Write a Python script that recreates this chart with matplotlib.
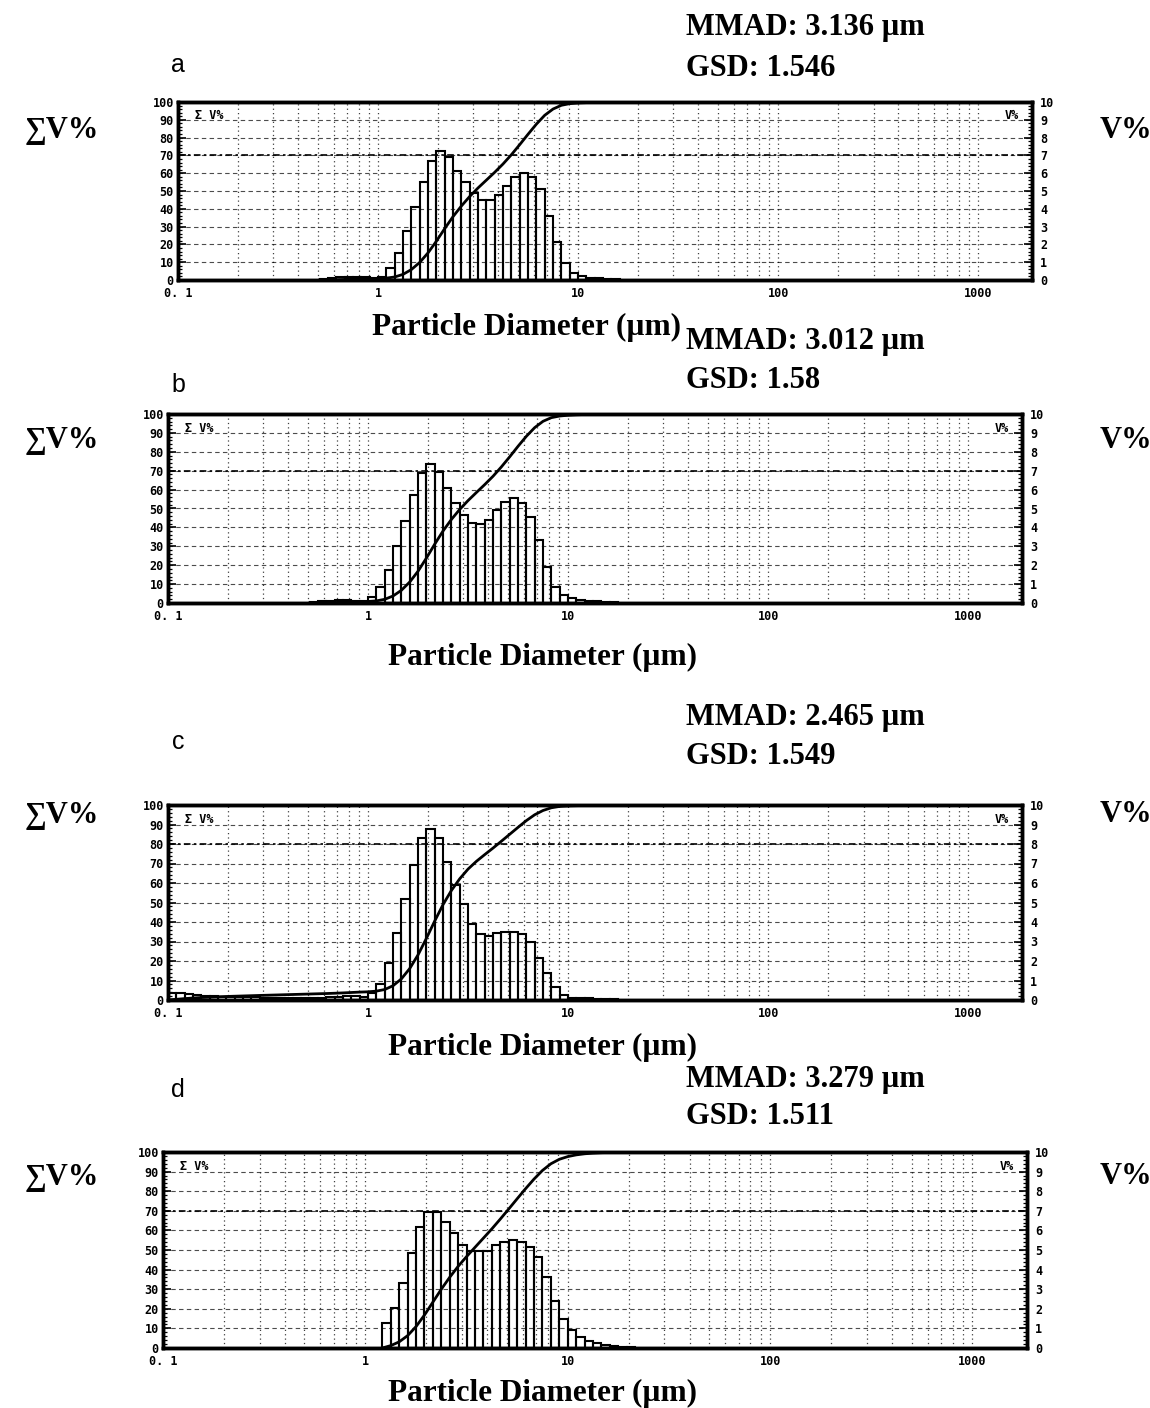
import numpy as np
import matplotlib
matplotlib.use('Agg')
import matplotlib.pyplot as plt
from matplotlib.ticker import FixedLocator, MultipleLocator, LogLocator, NullFormatter

W, H = 1150, 1408

# instrument channels: channel k spans 10**(k/24) .. 10**((k+1)/24) um
BINS_PER_DECADE = 24
CURVE_END = 100  # cumulative curve runs flat at 100 % up to here

PANEL_NAMES = ['a', 'b', 'c', 'd']
MMAD = ['3.136', '3.012', '2.465', '3.279']
GSD = ['1.546', '1.58', '1.549', '1.511']

XTICKS = [0.1, 1, 10, 100, 1000]
XTICK_LABELS = ['0. 1', '1', '10', '100', '1000']

# V% per channel, first channel index given separately
A_START = -7
A_VOL = [0.05, 0.1, 0.15, 0.18, 0.18, 0.15, 0.12, 0.15,
         0.66, 1.5, 2.77, 4.1, 5.5, 6.7, 7.25, 6.9, 6.1, 5.5, 4.9, 4.5,
         4.5, 4.8, 5.3, 5.8, 6.0, 5.8, 5.1, 3.6, 2.15, 0.94, 0.4,
         0.2, 0.12, 0.1, 0.08, 0.05]

B_START = -7
B_VOL = [0.05, 0.1, 0.12, 0.15, 0.15, 0.12, 0.12, 0.3,
         0.83, 1.75, 3.0, 4.35, 5.7, 6.9, 7.35, 6.95, 6.07, 5.3, 4.66, 4.25,
         4.18, 4.4, 4.92, 5.33, 5.54, 5.27, 4.57, 3.33, 1.92, 0.86, 0.4,
         0.25, 0.15, 0.1, 0.08, 0.05, 0.03]

C_START = -24
C_VOL = [0.35, 0.35, 0.3, 0.25, 0.2, 0.18, 0.15, 0.13, 0.13, 0.13, 0.13, 0.12,
         0.12, 0.12, 0.12, 0.12, 0.12, 0.12, 0.12, 0.15, 0.17, 0.2, 0.2, 0.15,
         0.34, 0.82, 1.9, 3.45, 5.2, 6.9, 8.3, 8.75, 8.3, 7.1, 5.9, 4.9,
         3.9, 3.4, 3.3, 3.45, 3.5, 3.5, 3.4, 2.95, 2.15, 1.37, 0.68, 0.26,
         0.12, 0.1, 0.08, 0.06, 0.05, 0.04]

D_START = 2
D_VOL = [1.26, 2.02, 3.33, 4.86, 6.19, 6.96, 6.96, 6.45, 5.88, 5.26,
         4.97, 4.97, 4.97, 5.26, 5.43, 5.5, 5.43, 5.17, 4.63, 3.6,
         2.41, 1.46, 0.92, 0.58, 0.36, 0.24, 0.15, 0.1, 0.07, 0.05]

STARTS = [A_START, B_START, C_START, D_START]
VOLS = [A_VOL, B_VOL, C_VOL, D_VOL]

# layout in pixels: axes box (left, top, right, bottom) and text rows
AX_BOX = [(178, 102, 1032, 280), (168, 414, 1022, 603),
          (168, 805, 1022, 1000), (163, 1152, 1027, 1348)]
MMAD_Y = [28, 342, 718, 1080]
GSD_Y = [68, 380, 757, 1117]
LETTER_Y = [65, 385, 742, 1090]
SIDE_Y = [130, 440, 815, 1177]
XLABEL_POS = [(526, 327), (542, 657), (542, 1047), (542, 1393)]
HEAVY_Y = [70, 70, 80, 70]

serif = ['Liberation Serif', 'DejaVu Serif']
mono = {'family': 'DejaVu Sans Mono', 'weight': 'bold', 'size': 8.5}

fig = plt.figure(figsize=(W / 100, H / 100), dpi=100)


def ftext(x, y, s, **kw):
    fig.text(x / W, 1 - y / H, s, va='center', **kw)


for i in range(4):
    l, t, r, b = AX_BOX[i]
    ax = fig.add_axes([l / W, 1 - b / H, (r - l) / W, (b - t) / H])
    ax2 = ax.twinx()
    ax.set_zorder(ax2.get_zorder() + 1)
    ax.patch.set_visible(False)
    ax2.patch.set_visible(True)
    ax2.patch.set_facecolor('white')

    vol = np.array(VOLS[i], dtype=float)
    k = STARTS[i] + np.arange(len(vol) + 1)
    edges = 10.0 ** (k / BINS_PER_DECADE)

    # frequency bars (V%, right axis)
    ax2.bar(edges[:-1], vol, width=np.diff(edges), align='edge', fill=False,
            edgecolor='black', linewidth=1.5)

    # cumulative curve (sum V%, left axis)
    cum = np.concatenate([[0], np.cumsum(vol) / vol.sum() * 100, [100]])
    xs = np.concatenate([edges, [CURVE_END]])
    ax.plot(xs, cum, color='black', lw=2.0, solid_joinstyle='round')

    ax.set_xscale('log')
    ax.set_xlim(0.1, 1860)
    ax.set_ylim(0, 100)
    ax2.set_ylim(0, 10)

    ax.xaxis.set_major_locator(FixedLocator(XTICKS))
    ax.set_xticklabels(XTICK_LABELS, fontdict=mono)
    ax.xaxis.set_minor_locator(LogLocator(base=10, subs=np.arange(2, 10)))
    ax.xaxis.set_minor_formatter(NullFormatter())
    ax.tick_params(axis='x', which='both', length=0, pad=5)

    ax.set_yticks(np.arange(0, 101, 10))
    ax.set_yticklabels([str(v) for v in range(0, 101, 10)], fontdict=mono)
    ax.yaxis.set_minor_locator(MultipleLocator(2))
    ax.tick_params(axis='y', which='major', direction='in', length=6, width=1.2, pad=3)
    ax.tick_params(axis='y', which='minor', direction='in', length=3, width=0.9)

    ax2.set_yticks(np.arange(0, 11, 1))
    ax2.set_yticklabels([str(v) for v in range(0, 11)], fontdict=mono)
    ax2.yaxis.set_minor_locator(MultipleLocator(0.2))
    ax2.tick_params(axis='y', which='major', direction='in', length=6, width=1.2, pad=6)
    ax2.tick_params(axis='y', which='minor', direction='in', length=3, width=0.9)

    ax.grid(axis='x', which='both', linestyle=(0, (1, 2.5)), color='black', lw=0.9, alpha=0.75)
    ax.grid(axis='y', which='major', linestyle=(0, (4, 3)), color='black', lw=0.8, alpha=0.7)
    ax.axhline(HEAVY_Y[i], linestyle=(0, (4, 2, 1.5, 2)), color='black', lw=1.2)

    for a in (ax, ax2):
        for sp in a.spines.values():
            sp.set_linewidth(2.5)

    ax.text(0.02, 0.925, 'Σ V%', transform=ax.transAxes, fontdict=mono, va='center')
    ax.text(0.985, 0.925, 'V%', transform=ax.transAxes, fontdict=mono, va='center', ha='right')

    # labels around the panel
    ftext(686, MMAD_Y[i], 'MMAD: ' + MMAD[i] + ' µm', family=serif, weight='bold', fontsize=22)
    ftext(686, GSD_Y[i], 'GSD: ' + GSD[i], family=serif, weight='bold', fontsize=22)
    ftext(178, LETTER_Y[i], PANEL_NAMES[i], family='Liberation Sans', fontsize=18, ha='center')
    ftext(25, SIDE_Y[i], '∑V%', family=serif, weight='bold', fontsize=22)
    ftext(1100, SIDE_Y[i], 'V%', family=serif, weight='bold', fontsize=22)
    xl, yl = XLABEL_POS[i]
    ftext(xl, yl, 'Particle Diameter (µm)', family=serif, weight='bold', fontsize=22.5, ha='center')

fig.savefig('out.png', dpi=100)
